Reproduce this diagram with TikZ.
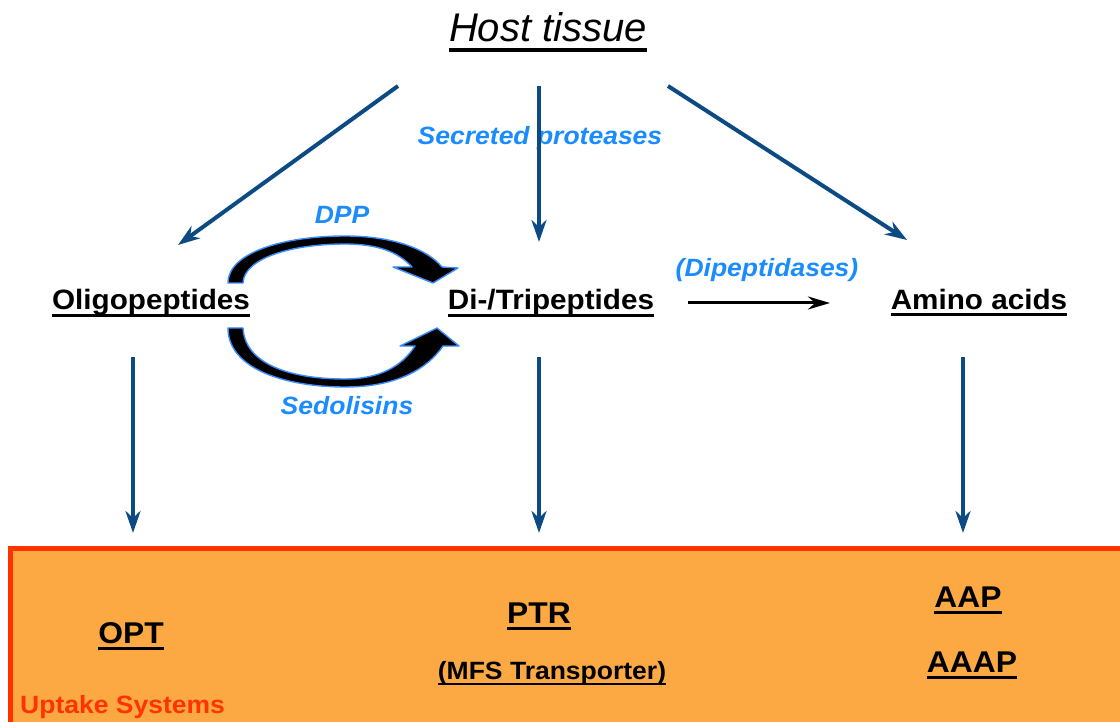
\documentclass[tikz,border=0pt]{standalone}
\usepackage{fontspec}
\setsansfont{Liberation Sans}
\newfontfamily\widesans{Liberation Sans}[FakeStretch=1.06]
\usetikzlibrary{arrows.meta}
\definecolor{cFlow}{HTML}{0B4A82}
\definecolor{cEnz}{HTML}{1A8CFF}
\definecolor{cRim}{HTML}{3C8DFF}
\definecolor{cBox}{HTML}{FDA943}
\definecolor{cEdge}{HTML}{FF3300}
\newcommand{\undl}[1]{\setbox0=\hbox{#1}\rlap{\rule[-0.24em]{\wd0}{0.1em}}\box0}
\tikzset{
    x=1pt, y=-1pt, font=\sffamily,
    title/.style={font=\sffamily\itshape\fontsize{40}{48}\selectfont,
                  inner sep=0pt, anchor=base},
    pool/.style={font=\widesans\bfseries\fontsize{28}{34}\selectfont,
                 inner sep=0pt, anchor=base},
    sys/.style={font=\widesans\bfseries\fontsize{30}{36}\selectfont,
                inner sep=0pt, anchor=base},
    enz/.style={font=\widesans\bfseries\itshape\fontsize{25}{30}\selectfont,
                text=cEnz, inner sep=0pt, anchor=base},
    flow/.style={-{Stealth[length=22pt, width=15pt, inset=7pt]},
                 line width=4pt, cFlow},
    conv/.style={-{Stealth[length=22pt, width=13pt, inset=7pt]},
                 line width=3pt, black},
    crescent/.style={fill=black, draw=cRim, line width=1.4pt, line join=round},
    uptake/.style={fill=cBox, draw=cEdge, line width=5pt},
}

\begin{document}
\begin{tikzpicture}
    \useasboundingbox (0,0) rectangle (1120,722);

    % uptake box
    \draw[uptake] (10.5,548) rectangle (1130,740);
    \node[font=\widesans\bfseries\fontsize{25}{30}\selectfont, text=cEdge,
          inner sep=0pt, anchor=base west] (uptake) at (20,713) {Uptake Systems};

    \node[title] (host) at (548,42) {\undl{Host tissue}};
    \node[enz] (secr) at (540,145) {Secreted proteases};

    \node[pool] (olig) at (151,310) {\undl{Oligopeptides}};
    \node[pool] (ditri) at (551,310) {\undl{Di-/Tripeptides}};
    \node[pool] (amino) at (979,309) {\undl{Amino acids}};

    \node[enz] (dpp) at (342,224) {DPP};
    \node[enz] (sedo) at (347,414) {Sedolisins};
    \node[enz] (dipep) at (767,277) {(Dipeptidases)};

    \node[sys] (opt) at (131,643) {\undl{OPT}};
    \node[sys] (ptr) at (539,623) {\undl{PTR}};
    \node[pool, font=\widesans\bfseries\fontsize{25}{30}\selectfont]
        (mfs) at (552,679) {\undl{(MFS Transporter)}};
    \node[sys] (aap) at (968,607) {\undl{AAP}};
    \node[sys] (aaap) at (972,672) {\undl{AAAP}};

    % free ends of the arrows
    \coordinate (srcL) at (398,86);
    \coordinate (srcM) at (539,86);
    \coordinate (srcR) at (668,86);
    \coordinate (oligIn) at (178,245);
    \coordinate (ditriIn) at (539,242);
    \coordinate (aminoIn) at (907,240);
    \coordinate (oligOut) at (133,357);
    \coordinate (ditriOut) at (539,357);
    \coordinate (aminoOut) at (963,357);
    \coordinate (optIn) at (133,533);
    \coordinate (ptrIn) at (539,533);
    \coordinate (aapIn) at (963,533);
    \coordinate (dipA) at (688,303);
    \coordinate (dipB) at (830,303);

    \draw[flow] (srcL) -- (oligIn);
    \draw[flow] (srcM) -- (ditriIn);
    \draw[flow] (srcR) -- (aminoIn);
    \draw[flow] (oligOut) -- (optIn);
    \draw[flow] (ditriOut) -- (ptrIn);
    \draw[flow] (aminoOut) -- (aapIn);
    \draw[conv] (dipA) -- (dipB);

    % DPP
    \filldraw[crescent] (228,283) .. controls (228,252) and (285,236) .. (345,236)
        .. controls (395,236) and (428,250) .. (442,267)
        -- (458,268) -- (433,283) -- (393,267) -- (412,267)
        .. controls (398,252) and (378,244) .. (345,244)
        .. controls (292,244) and (244,258) .. (243,283) -- cycle;
    % sedolisins
    \filldraw[crescent] (228,328) .. controls (228,370) and (288,387) .. (345,387)
        .. controls (398,387) and (428,368) .. (443,346)
        -- (459,346) -- (437,328) -- (400,346) -- (415,346)
        .. controls (402,366) and (380,379) .. (345,379)
        .. controls (290,379) and (245,364) .. (243,328) -- cycle;
\end{tikzpicture}
\end{document}
